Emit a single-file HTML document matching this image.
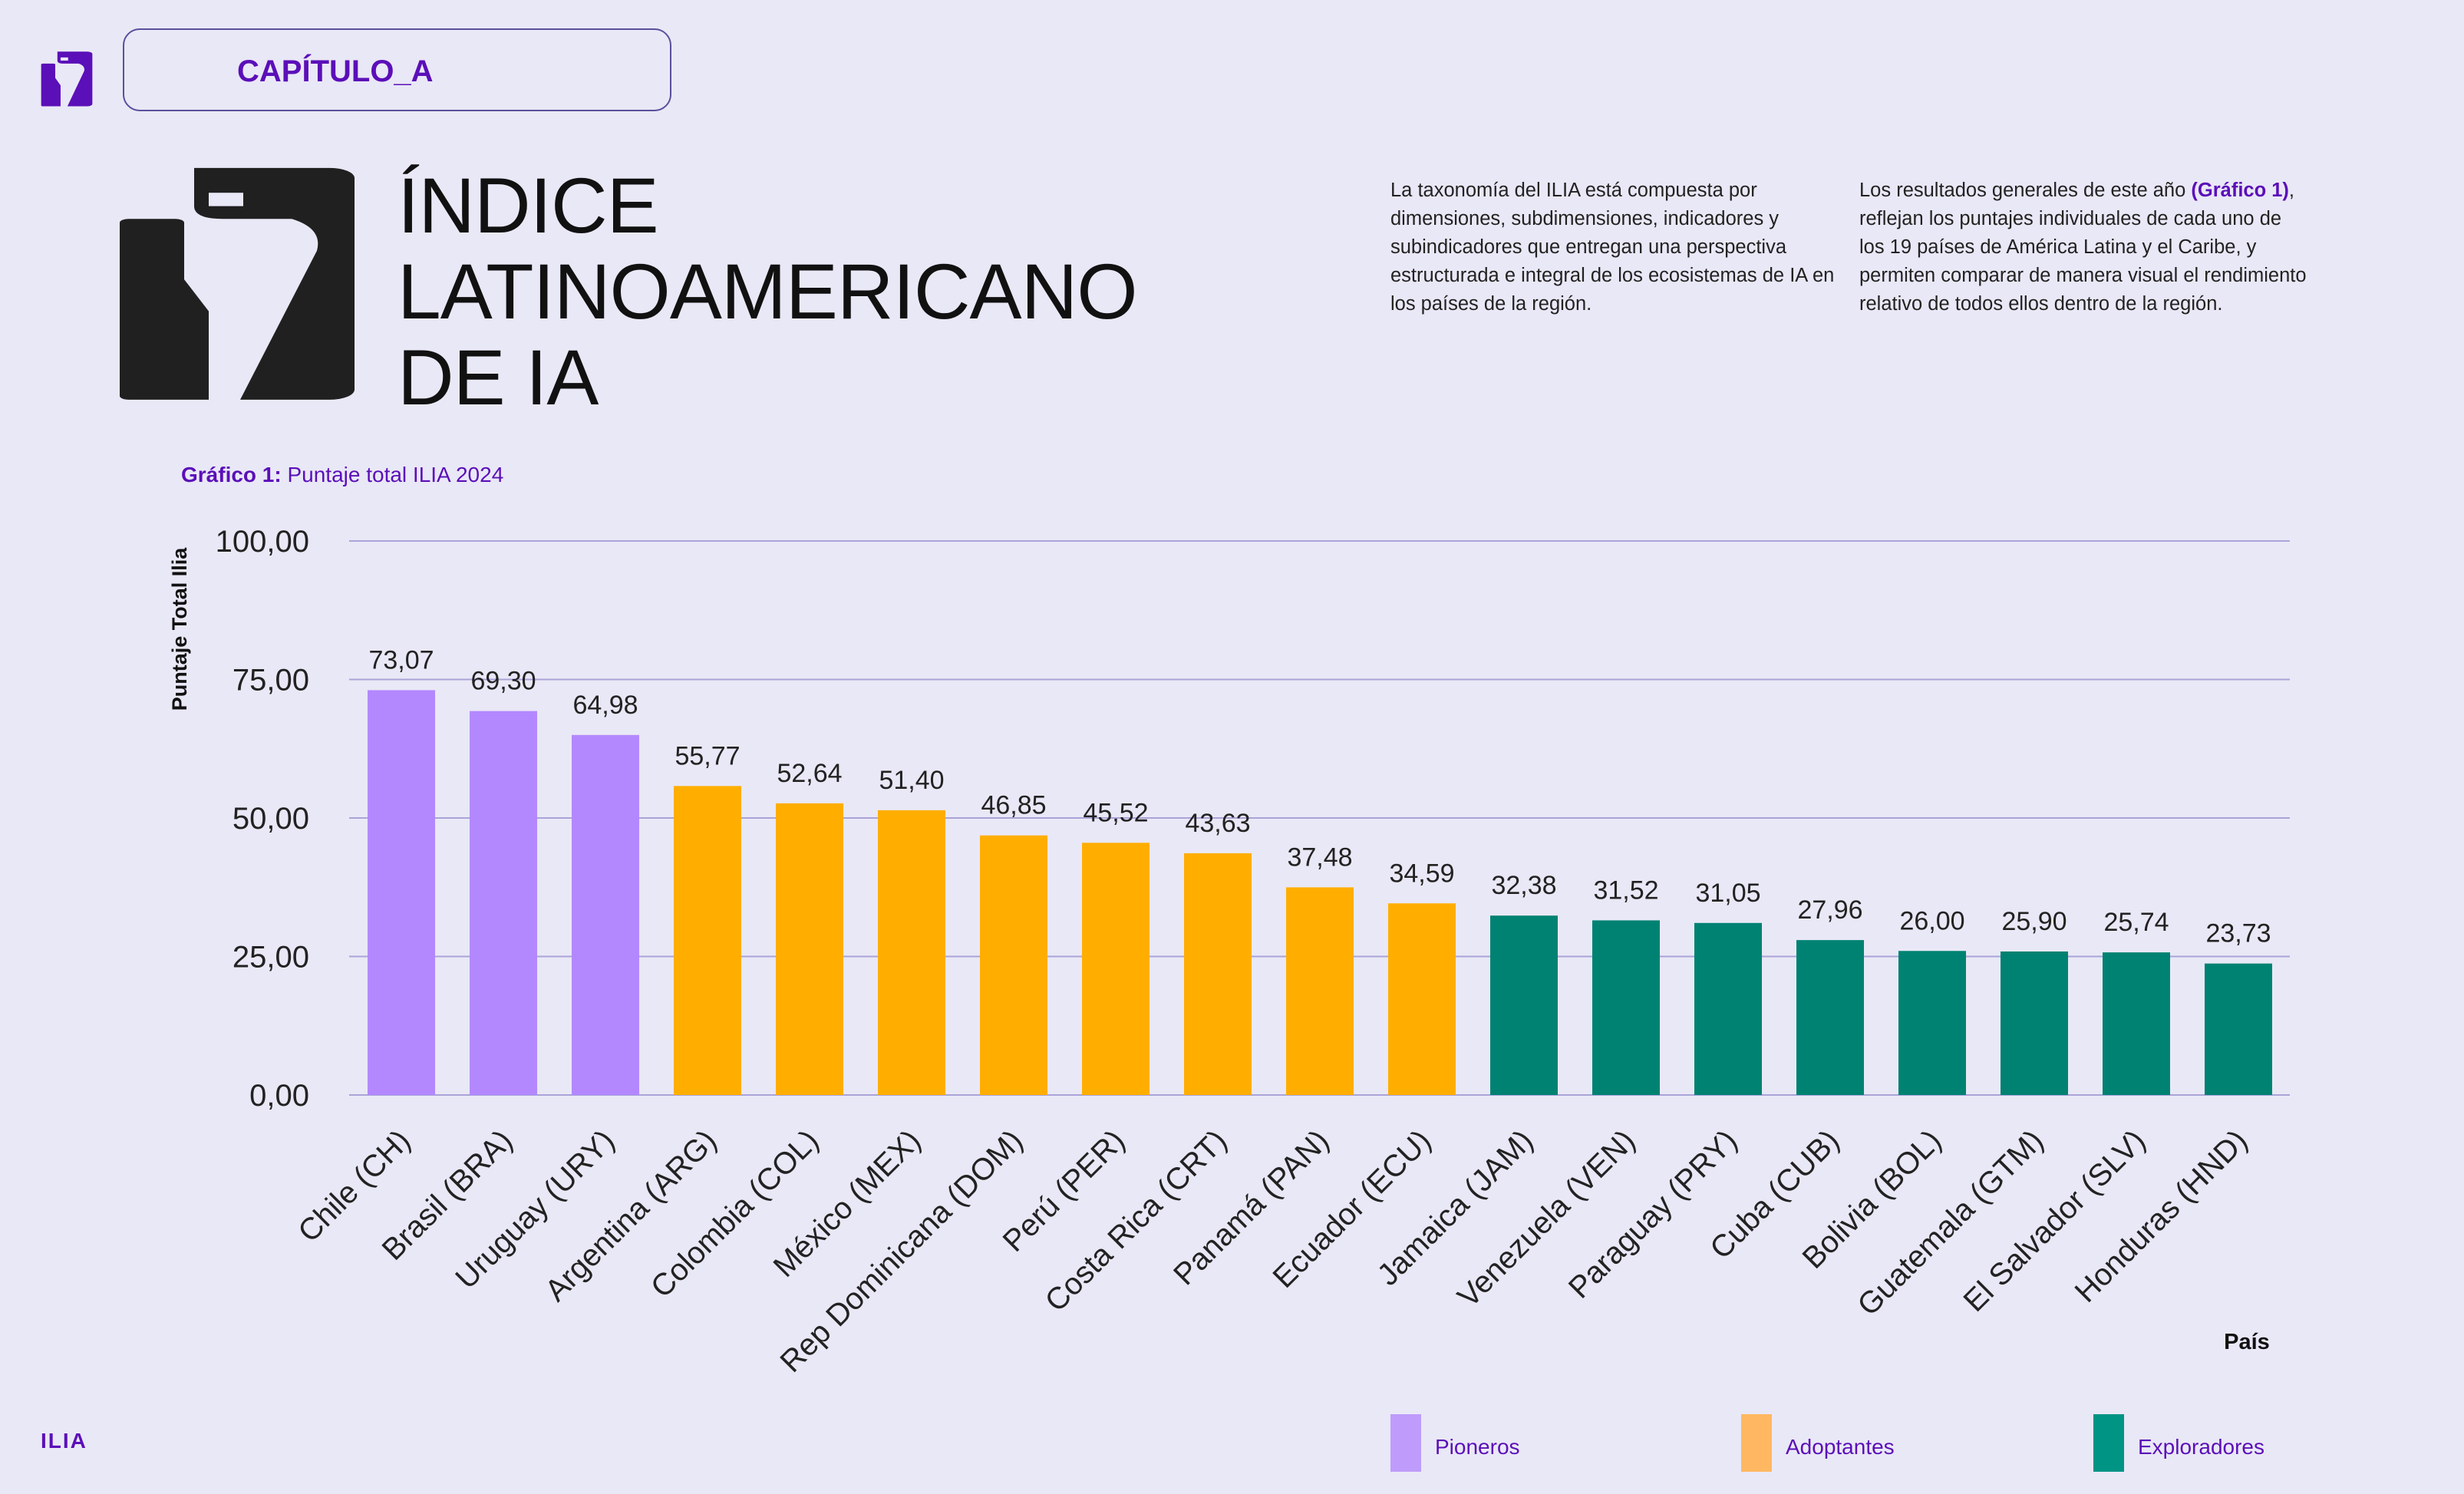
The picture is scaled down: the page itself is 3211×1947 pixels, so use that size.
<!DOCTYPE html>
<html><head><meta charset="utf-8"><style>
body{margin:0;width:3211px;height:1947px;background:#e9e8f6;position:relative;overflow:hidden;font-family:"Liberation Sans",sans-serif;}
.abs{position:absolute;}
.p{font-size:25.5px;line-height:37px;color:#222;width:585px;}
</style></head><body>
<svg class="abs" style="left:53px;top:67px" width="68" height="72" viewBox="0 0 312 735" preserveAspectRatio="none"><path d="M3 174 a12 12 0 0 1 12 -12 h60 a12 12 0 0 1 12 12 v178 l32 100 v278 h-104 a12 12 0 0 1 -12 -12 z M100 2 h177 a32 32 0 0 1 32 32 v664 a32 32 0 0 1 -32 32 h-117 l100 -468 q8 -70 -33 -100 h-90 q-37 0 -37 -40 z" fill="#5b0fb8"/><rect x="119" y="80" width="45" height="42" fill="#e9e8f6"/></svg>
<div class="abs" style="left:160px;top:37px;width:715px;height:108px;border:2px solid #5a4f9c;border-radius:22px;box-sizing:border-box;"></div>
<div class="abs" style="left:309px;top:71px;font-size:40px;font-weight:bold;color:#5b0fb8;">CAPÍTULO_A</div>
<svg class="abs" style="left:153px;top:218px" width="312" height="305" viewBox="0 0 312 735" preserveAspectRatio="none"><path d="M3 174 a12 12 0 0 1 12 -12 h60 a12 12 0 0 1 12 12 v178 l32 100 v278 h-104 a12 12 0 0 1 -12 -12 z M100 2 h177 a32 32 0 0 1 32 32 v664 a32 32 0 0 1 -32 32 h-117 l100 -468 q8 -70 -33 -100 h-90 q-37 0 -37 -40 z" fill="#202020"/><rect x="119" y="80" width="45" height="42" fill="#e9e8f6"/></svg>
<div class="abs" style="left:518px;top:212px;font-size:102px;line-height:112px;color:#111;letter-spacing:-1px;">ÍNDICE<br>LATINOAMERICANO<br>DE IA</div>
<div class="abs p" style="left:1812px;top:230px;">La taxonomía del ILIA está compuesta por dimensiones, subdimensiones, indicadores y subindicadores que entregan una perspectiva estructurada e integral de los ecosistemas de IA en los países de la región.</div>
<div class="abs p" style="left:2423px;top:230px;">Los resultados generales de este año <b style="color:#5b0fb8">(Gráfico 1)</b>, reflejan los puntajes individuales de cada uno de los 19 países de América Latina y el Caribe, y permiten comparar de manera visual el rendimiento relativo de todos ellos dentro de la región.</div>
<div class="abs" style="left:236px;top:603px;font-size:28px;color:#5b0fb8;"><b>Gráfico 1:</b> Puntaje total ILIA 2024</div>
<svg id="chart" class="abs" style="left:0;top:0" width="3211" height="1947"></svg>
<div class="abs" style="left:53px;top:1862px;font-size:28px;font-weight:bold;color:#5b0fb8;letter-spacing:2px;">ILIA</div>
<script>
const categories=["Chile (CH)","Brasil (BRA)","Uruguay (URY)","Argentina (ARG)","Colombia (COL)","México (MEX)","Rep Dominicana (DOM)","Perú (PER)","Costa Rica (CRT)","Panamá (PAN)","Ecuador (ECU)","Jamaica (JAM)","Venezuela (VEN)","Paraguay (PRY)","Cuba (CUB)","Bolivia (BOL)","Guatemala (GTM)","El Salvador (SLV)","Honduras (HND)"];
const values=[73.07,69.30,64.98,55.77,52.64,51.40,46.85,45.52,43.63,37.48,34.59,32.38,31.52,31.05,27.96,26.00,25.90,25.74,23.73];
const groups=[0,0,0,1,1,1,1,1,1,1,1,2,2,2,2,2,2,2,2];
const groupNames=["Pioneros","Adoptantes","Exploradores"];
const ticks=[0,25,50,75,100];
const barColors=["#b388ff","#ffae00","#008272"];
const legendColors=["#bf9cfb","#ffb861","#009485"];
const svg=document.getElementById('chart');
const NS="http://www.w3.org/2000/svg";
const y0=1427,y1=705,xL=455,xR=2984,first=523,pitch=133,bw=88;
const Y=v=>y0-(v/100)*(y0-y1);
const X=i=>first+i*pitch;
function mk(t,a,txt){const e=document.createElementNS(NS,t);for(const k in a)e.setAttribute(k,a[k]);if(txt!==undefined)e.textContent=txt;svg.appendChild(e);return e;}
ticks.forEach(t=>{
 const l=mk('line',{x1:xL,x2:xR,y1:Y(t),y2:Y(t),stroke:'#a9a4d8','stroke-width':2});
 
 
 const tx=mk('text',{x:403,y:Y(t)+14,'text-anchor':'end','font-size':40,fill:'#222'},t.toFixed(2).replace('.',','));
 
 
});
values.forEach((v,i)=>{
 const r=mk('rect',{x:X(i)-bw/2,y:Y(v),width:bw,height:y0-Y(v),fill:barColors[groups[i]]});
 
 
 const t=mk('text',{x:X(i),y:Y(v)-28,'text-anchor':'middle','font-size':34,fill:'#222'},v.toFixed(2).replace('.',','));
 
 
 const c=mk('text',{x:X(i)+14,y:y0+62,'text-anchor':'end','font-size':40,fill:'#222',transform:`rotate(-45 ${X(i)+14} ${y0+62})`},categories[i]);
 
 
});
const yt=mk('text',{x:0,y:0,'font-size':27,'font-weight':'bold',fill:'#111','text-anchor':'middle',transform:'translate(243 820) rotate(-90)'},'Puntaje Total Ilia');


const xt=mk('text',{x:2928,y:1758,'font-size':29,'font-weight':'bold',fill:'#111','text-anchor':'middle'},'País');


[1812,2269,2728].forEach((lx,g)=>{
 const s=mk('rect',{x:lx,y:1843,width:40,height:75,fill:legendColors[g]});
 
 
 const t=mk('text',{x:lx+58,y:1895,'font-size':28,fill:'#5b0fb8'},groupNames[g]);
 
 
});
</script>
</body></html>
